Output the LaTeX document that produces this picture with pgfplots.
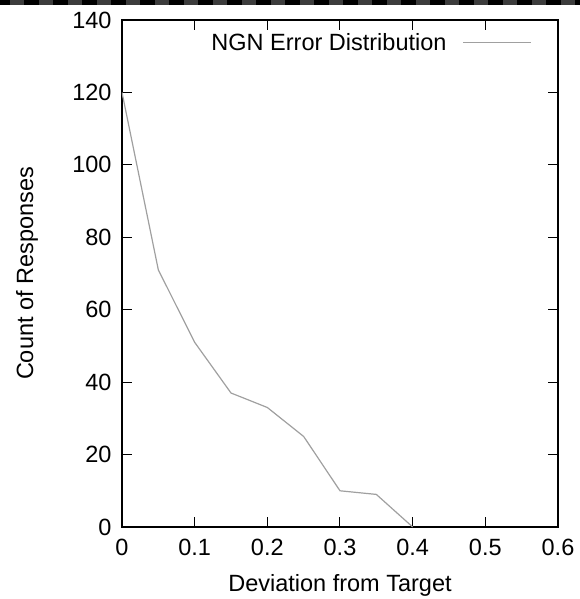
\documentclass[border=0pt]{standalone}
\usepackage{fontspec}
\setmainfont{Liberation Sans}
\usepackage{pgfplots}
\pgfplotsset{compat=1.18}
\definecolor{ngngray}{RGB}{160,160,160}
\definecolor{banddash}{RGB}{60,60,60}

\begin{document}
\begin{tikzpicture}[font=\fontsize{23.5bp}{28bp}\selectfont]
\useasboundingbox (-122bp,-72bp) rectangle (458bp,527bp);
% dark dashed strip along the top edge
\fill[black] (-122bp,522bp) rectangle (458bp,527bp);
\draw[banddash, line width=5bp, dash pattern=on 14bp off 15bp] (-112bp,524.5bp) -- (458bp,524.5bp);

\begin{axis}[
    scale only axis,
    width=436bp,
    height=507bp,
    xmin=0, xmax=0.6,
    ymin=0, ymax=140,
    xtick={0,0.1,0.2,0.3,0.4,0.5,0.6},
    ytick={0,20,40,60,80,100,120,140},
    tick align=inside,
    major tick length=10bp,
    axis line style={line width=1.3bp},
    every tick/.style={line width=1bp, black},
    /pgf/number format/assume math mode=true,
    xticklabel style={yshift=-9bp},
    yticklabel style={xshift=-7bp},
    xlabel={Deviation from Target},
    ylabel={Count of Responses},
    xlabel style={at={(axis description cs:0.5,-0.1144)}, anchor=center},
    ylabel style={at={(axis description cs:-0.218,0.5)}, anchor=center},
    legend style={at={(axis description cs:0.947,0.955)}, anchor=east,
        draw=none, fill=none},
    legend cell align=right,
    legend plot pos=right,
    legend image code/.code={\path (0bp,0bp); \draw[#1] (14bp,0bp) -- (82bp,0bp);},
]

\addplot[ngngray, line width=1.2bp] coordinates {
    (0.00, 120)
    (0.05, 71)
    (0.10, 51)
    (0.15, 37)
    (0.20, 33)
    (0.25, 25)
    (0.30, 10)
    (0.35, 9)
    (0.40, 0)
};
\addlegendentry{NGN Error Distribution}

\end{axis}
\end{tikzpicture}
\end{document}
